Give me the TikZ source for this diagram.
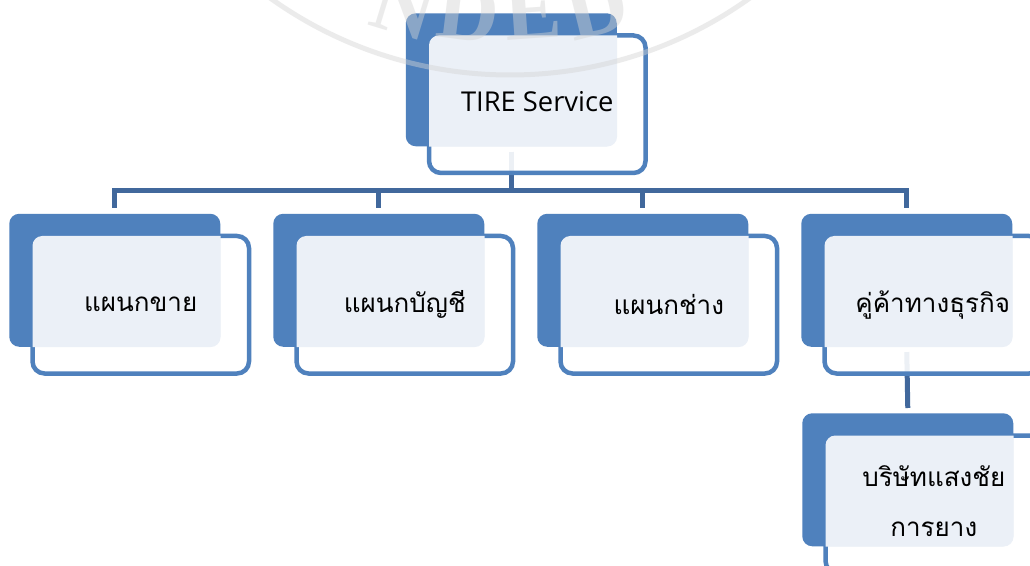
\documentclass[tikz,border=0pt]{standalone}
\usepackage{fontspec}
\setmainfont{Open Sans}
\newfontfamily\thai[Script=Thai]{Loma}
\newfontfamily\wmfont{Liberation Serif}
\usetikzlibrary{calc}
\definecolor{bblue}{HTML}{4F81BD}
\definecolor{cblue}{HTML}{41689C}
\definecolor{panec}{HTML}{EBF0F7}
\definecolor{wmc}{HTML}{D4D4D4}
\pgfdeclarelayer{bg}
\pgfsetlayers{bg,main}
\newcommand\orgbox[4]{%
  \node[backbox] (b#1) at (#2) {};
  \node[frontbox] (f#1) at ($(b#1.north west)+(21.25,20.25)$) {};
  \begin{scope}
    \clip[rounded corners=7.3pt] ($(f#1.north west)+(2.25,2.25)$) rectangle ($(f#1.south east)+(-2.25,-2.25)$);
    \fill[panec,rounded corners=7.5pt] (b#1.north west) rectangle (b#1.south east);
  \end{scope}
  \node[lbl] (t#1) at ($(f#1.center)+(0,#4)$) {#3};
}
\begin{document}
\begin{tikzpicture}[x=0.75pt,y=-0.75pt,
  backbox/.style={rectangle,fill=bblue,rounded corners=7.5pt,minimum width=158.25pt,minimum height=99.75pt,inner sep=0pt,anchor=north west},
  frontbox/.style={rectangle,draw=bblue,line width=3.375pt,fill=white,fill opacity=0.9,draw opacity=1,rounded corners=9pt,minimum width=162.375pt,minimum height=103.125pt,inner sep=0pt,anchor=north west},
  lbl/.style={font=\thai\fontsize{19.5}{37.5}\selectfont,align=center,inner sep=0pt,text=black},
  conn/.style={draw=cblue,line width=3.75pt},
  wmletter/.style={font=\wmfont\bfseries\fontsize{64}{66}\selectfont,text=wmc,text opacity=0.45,anchor=base,inner sep=0pt}]
\useasboundingbox (0,0) rectangle (1030,566);
\clip (0,0) rectangle (1030,566);

\orgbox{0}{405.5,13}{\fontspec{Open Sans}\fontsize{20.5}{24}\selectfont TIRE Service}{-3}
\orgbox{1}{9,213.5}{แผนกขาย}{0}
\orgbox{2}{273,213.5}{แผนกบัญชี}{0}
\orgbox{3}{537,213.5}{แผนกช่าง}{0}
\orgbox{4}{801,213.5}{คู่ค้าทางธุรกิจ}{0}
\orgbox{5}{802,413}{บริษัทแสงชัย\\การยาง}{-3}

\begin{pgfonlayer}{bg}
\fill[white] (0,0) rectangle (1030,566);
\draw[conn] ($(b0.south)+(0,5)$) |- ($(b1.north)+(0,-23)$) -- ($(b1.north)+(0,-5)$);
\draw[conn] ($(b0.south)+(0,5)$) |- ($(b4.north)+(0,-23)$) -- ($(b4.north)+(0,-5)$);
\draw[conn] ($(b2.north)+(0,-23)$) -- ($(b2.north)+(0,-5)$);
\draw[conn] ($(b3.north)+(0,-23)$) -- ($(b3.north)+(0,-5)$);
\draw[conn] ($(b4.south)+(0,5)$) -- ($(b5.north)+(0,-5)$);
\end{pgfonlayer}

% watermark
\draw[wmc,line width=3.75pt,draw opacity=0.45] (510,-337) circle[radius=412];
\node[wmletter,rotate=-17] (w1) at (396,34) {N};
\node[wmletter,rotate=-7] (w2) at (465,40) {D};
\node[wmletter,rotate=4] (w3) at (535,39) {E};
\node[wmletter,rotate=14] (w4) at (603,34) {D};
\end{tikzpicture}
\end{document}
